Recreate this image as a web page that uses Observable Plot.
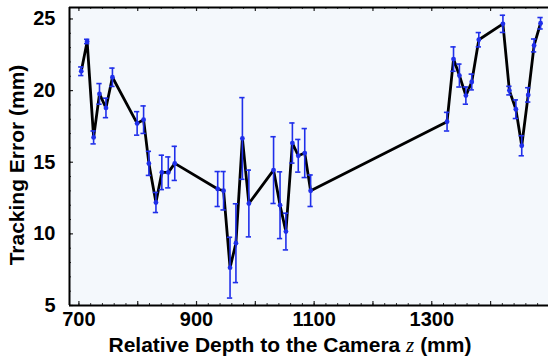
<!DOCTYPE html>
<html>
<head>
<meta charset="utf-8">
<script src="https://cdn.jsdelivr.net/npm/d3@7"></script>
<script src="https://cdn.jsdelivr.net/npm/@observablehq/plot@0.6"></script>
<style>
  body { margin: 0; background: #fff; }
</style>
</head>
<body>
<div id="chart"></div>
<script>
// Tracking error (mean ± SD) against relative depth to the camera
const depth = [704, 714, 725, 735, 746, 757, 799, 810, 819, 831, 841, 852, 863,
               936, 946, 957, 967, 978, 989, 1031, 1042, 1052, 1063, 1073, 1084, 1094,
               1326, 1337, 1347, 1358, 1368, 1380, 1421, 1432, 1443, 1453, 1464, 1474, 1485];
const trackingError = [21.35, 23.43, 16.73, 19.77, 18.79, 20.93, 17.71, 17.97, 14.92, 12.19, 14.29, 14.29, 14.92,
                       13.13, 13.01, 7.64, 9.35, 16.66, 12.12, 14.45, 12.0, 10.16, 16.34, 15.45, 15.64, 13.01,
                       17.83, 22.2, 21.05, 19.65, 20.6, 23.55, 24.66, 20.0, 18.7, 16.15, 19.7, 23.15, 24.7];
const errorSD = [0.3, 0.15, 0.45, 0.72, 0.68, 0.64, 0.82, 0.96, 0.84, 0.7, 1.2, 1.08, 1.19,
                 1.22, 1.34, 2.12, 2.75, 2.85, 2.33, 2.33, 2.33, 1.28, 1.4, 1.14, 1.71, 1.1,
                 0.65, 0.85, 0.8, 0.6, 0.55, 0.5, 0.6, 0.3, 0.65, 0.7, 0.5, 0.45, 0.4];

const xTickLabels = [700, 900, 1100, 1300];
const yTickLabels = [5, 10, 15, 20, 25];
const xDomain = [684, 1498.5];
const yDomain = [5, 25.8];

const rows = depth.map((z, i) => ({z, err: trackingError[i], sd: errorSD[i]}));

const W = 548, H = 360, mL = 69, mR = 0, mT = 7, mB = 55;
const innerW = W - mL - mR, innerH = H - mT - mB;
const blue = "#1f2fea";
const xMinor = d3.range(700, 1500, 20);
const xMid = d3.range(700, 1500, 100);
const yMinor = d3.range(5, 26, 1);
const capHalf = 4.5; // half-width of error-bar caps, in depth units

const plot = Plot.plot({
  width: W, height: H,
  marginLeft: mL, marginRight: mR, marginTop: mT, marginBottom: mB,
  style: {
    fontFamily: "'Liberation Sans', Arial, sans-serif",
    fontWeight: "bold", fontSize: "20px", color: "black", background: "white"
  },
  x: {domain: xDomain, ticks: xTickLabels, tickFormat: "d", tickSize: 0, tickPadding: 6, label: null},
  y: {domain: yDomain, ticks: yTickLabels, tickFormat: "d", tickSize: 0, tickPadding: 14, label: null},
  marks: [
    Plot.frame({fill: "#f4f8fc", stroke: null}),
    // inward tick marks along bottom, top and left edges
    Plot.ruleX(xMinor, {insetTop: innerH - 2, stroke: "#333", strokeWidth: 1}),
    Plot.ruleX(xMid, {insetTop: innerH - 4, stroke: "#222", strokeWidth: 1.2}),
    Plot.ruleX(xMinor, {insetBottom: innerH - 2, stroke: "#333", strokeWidth: 1}),
    Plot.ruleX(xMid, {insetBottom: innerH - 4, stroke: "#222", strokeWidth: 1.2}),
    Plot.ruleY(yMinor, {insetRight: innerW - 2, stroke: "#333", strokeWidth: 1}),
    Plot.ruleY(yTickLabels, {insetRight: innerW - 4, stroke: "#222", strokeWidth: 1.2}),
    // mean tracking error
    Plot.line(rows, {x: "z", y: "err", stroke: "black", strokeWidth: 2.8}),
    // error bars with caps
    Plot.ruleX(rows, {x: "z", y1: d => d.err - d.sd, y2: d => d.err + d.sd, stroke: blue, strokeWidth: 1.6}),
    Plot.ruleY(rows, {y: d => d.err - d.sd, x1: d => d.z - capHalf, x2: d => d.z + capHalf, stroke: blue, strokeWidth: 1.6}),
    Plot.ruleY(rows, {y: d => d.err + d.sd, x1: d => d.z - capHalf, x2: d => d.z + capHalf, stroke: blue, strokeWidth: 1.6}),
    Plot.dot(rows, {x: "z", y: "err", r: 2.4, fill: blue}),
    // plot box: left, bottom and top edges
    Plot.ruleX([xDomain[0]], {stroke: "black", strokeWidth: 2}),
    Plot.ruleY(yDomain, {stroke: "black", strokeWidth: 2})
  ]
});

const svg = d3.select(plot);
const xt = svg.append("text")
  .attr("x", 290).attr("y", 352)
  .attr("text-anchor", "middle")
  .style("font-size", "21px").style("font-weight", "bold");
xt.append("tspan").text("Relative Depth to the Camera ");
xt.append("tspan").text("z")
  .style("font-family", "'Liberation Serif', 'DejaVu Serif', serif")
  .style("font-style", "italic").style("font-weight", "normal");
xt.append("tspan").text(" (mm)");

svg.append("text")
  .attr("transform", "translate(24,165) rotate(-90)")
  .attr("text-anchor", "middle")
  .style("font-size", "21px").style("font-weight", "bold")
  .text("Tracking Error (mm)");

document.getElementById("chart").append(plot);
</script>
</body>
</html>
